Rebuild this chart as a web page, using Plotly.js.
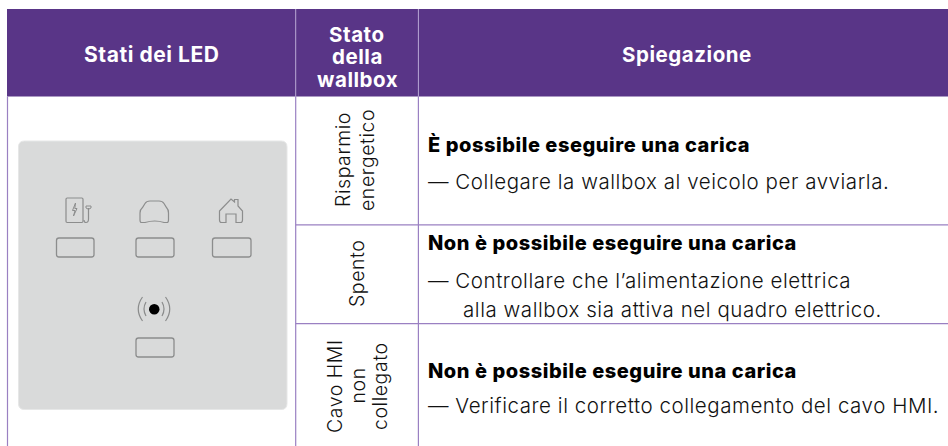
<!DOCTYPE html>
<html><head><meta charset="utf-8">
<script src="https://cdn.plot.ly/plotly-3.0.1.min.js"></script>
<style>html,body{margin:0;padding:0;background:#fff}#c{width:948px;height:446px}
.annotation-text{letter-spacing:.55px}</style></head>
<body><div id="c"></div>
<script>
// ---- table content ----
const headerLed = "Stati dei LED";
const headerState = ["Stato", "della", "wallbox"];
const headerExplain = "Spiegazione";
const stateLabels = [["Risparmio", "energetico"], ["Spento"], ["Cavo HMI", "non", "collegato"]];
const outcomes = ["È possibile eseguire una carica", "Non è possibile eseguire una carica", "Non è possibile eseguire una carica"];
const details = [
  ["— Collegare la wallbox al veicolo per avviarla."],
  ["— Controllare che l’alimentazione elettrica", "alla wallbox sia attiva nel quadro elettrico."],
  ["— Verificare il corretto collegamento del cavo HMI."]
];

// ---- layout constants ----
const PURPLE = "#593587", RULE = "#9a80c2", HRULE = "#b9a8d6", INK = "#111";
const FONT = "Inter, 'Noto Sans', sans-serif";
const colX = [7.5, 295.7, 418.4, 948];
const rowY = [9, 96.6, 224.8, 323.7, 446];
const stateCx = [[343, 367], [357], [335, 357.5, 380]];
const stateCy = [160, 274, 386];
const outcomeY = [144, 243, 371];
const detailY = [[181], [280, 309], [405.5]];
const detailX = [[425.5], [425.5, 461], [425.5]];
const ledBoxes = [[56.5,238,94,257],[136,238,174,257],[212.5,238,251,257],[136,338,174,357]];

function rr(x0,y0,x1,y1,r){
  return `M${x0+r},${y0} L${x1-r},${y0} Q${x1},${y0} ${x1},${y0+r} L${x1},${y1-r} Q${x1},${y1} ${x1-r},${y1} L${x0+r},${y1} Q${x0},${y1} ${x0},${y1-r} L${x0},${y0+r} Q${x0},${y0} ${x0+r},${y0} Z`;
}
const shapes = [];
const P = (path, line, fill) => shapes.push({type:"path", xref:"x", yref:"y", path, line, fillcolor: fill||"rgba(0,0,0,0)", layer:"above"});
const R = (x0,y0,x1,y1,fill) => shapes.push({type:"rect", xref:"x", yref:"y", x0,y0,x1,y1, fillcolor:fill, line:{width:0}, layer:"below"});
const L = (x0,y0,x1,y1,color,w) => shapes.push({type:"line", xref:"x", yref:"y", x0,y0,x1,y1, line:{color,width:w}, layer:"above"});

// header band and rules
R(colX[0]-0.5, rowY[0], colX[3], rowY[1], PURPLE);
L(colX[1], rowY[0], colX[1], rowY[1], HRULE, 1);
L(colX[2], rowY[0], colX[2], rowY[1], HRULE, 1);
[0,1,2].forEach(i => L(colX[i], rowY[1], colX[i], rowY[4], RULE, 1.2));
L(colX[1], rowY[2], colX[3], rowY[2], RULE, 1.2);
L(colX[1], rowY[3], colX[3], rowY[3], RULE, 1.2);

// device panel
P(rr(18.5,141,287,409.5,6), {width:1, color:"#e6e7e7"}, "#d9dada");
ledBoxes.forEach(b => P(rr(b[0],b[1],b[2],b[3],2.5), {color:"#8c8d8d", width:1.3}));

const icon = {color:"#8c8d8d", width:1.2};
// wallbox icon
P(rr(66,198,83,222.5,1.2), icon);
P("M75.5,203 L72.5,210.5 L75,210.5 L73.5,216 L77,208.5 L74.8,208.5 Z", {color:"#8c8d8d", width:1});
P("M88.5,208 L88.5,219 Q88.5,222.5 86,222.5 Q84,222.5 84,220", icon);
P("M86,206 L91,206 L91,208 Q88.5,210.5 86,208 Z", {color:"#8c8d8d", width:1});
// car icon
P("M141.5,222.5 Q140,222.5 140,220 L140,213 Q140,209.5 142.5,207.5 L145,203.5 Q146.5,201 150,201 L159,201 Q162.5,201 164,203.5 L166.5,207.5 Q168.5,209.5 168.5,213 L168.5,220 Q168.5,222.5 167,222.5 L164,222.5 Q155,219.5 145,222.5 Z", icon);
// house icon
P("M219.5,211 L231,199 L234.5,202 L234.5,199.5 L238,199.5 L238,206 L242.5,211 L242.5,220 Q242.5,222.5 240.5,222.5 L236,222.5 L236,214 L226,214 L226,222.5 L221.5,222.5 Q219.5,222.5 219.5,220 Z", icon);
// signal icon
shapes.push({type:"circle", xref:"x", yref:"y", x0:149,y0:304,x1:159.5,y1:314.5, fillcolor:"#000", line:{width:0}, layer:"above"});
const sig = {color:"#8a8b8b", width:1.2};
P("M146,302 Q142,309 146,316", sig);
P("M142.5,297 Q134,309 142.5,321", sig);
P("M162,302 Q166,309 162,316", sig);
P("M165.5,297 Q174,309 165.5,321", sig);

// text
const annotations = [];
const T = (text,x,y,size,color,weight,anchor,angle) => annotations.push({
  text, x, y, xref:"x", yref:"y", showarrow:false, xanchor:anchor||"left", yanchor:"middle",
  textangle: angle||0, font:{family:FONT, size, color, weight:weight||400}
});
T(headerLed, 151.5, 54, 21, "#fff", 700, "center");
headerState.forEach((t,i) => T(t, 357, [34,56.5,79][i], 20.5, "#fff", 700, "center"));
T(headerExplain, 687, 54, 20.5, "#fff", 700, "center");
stateLabels.forEach((ls,i) => ls.forEach((t,j) => T(t, stateCx[i][j], stateCy[i], 19.5, INK, 300, "center", -90)));
outcomes.forEach((t,i) => T(t, 425.5, outcomeY[i], 20, "#000", 800));
details.forEach((ls,i) => ls.forEach((t,j) => T(t, detailX[i][j], detailY[i][j], 20.5, INK, 300)));

const hidden = {visible:false, fixedrange:true};
Plotly.newPlot("c", [], {
  width:948, height:446, margin:{l:0,r:0,t:0,b:0},
  paper_bgcolor:"#fff", plot_bgcolor:"#fff", showlegend:false,
  xaxis:{...hidden, range:[0,948]}, yaxis:{...hidden, range:[446,0]},
  shapes, annotations
}, {displayModeBar:false, staticPlot:true});
</script></body></html>
